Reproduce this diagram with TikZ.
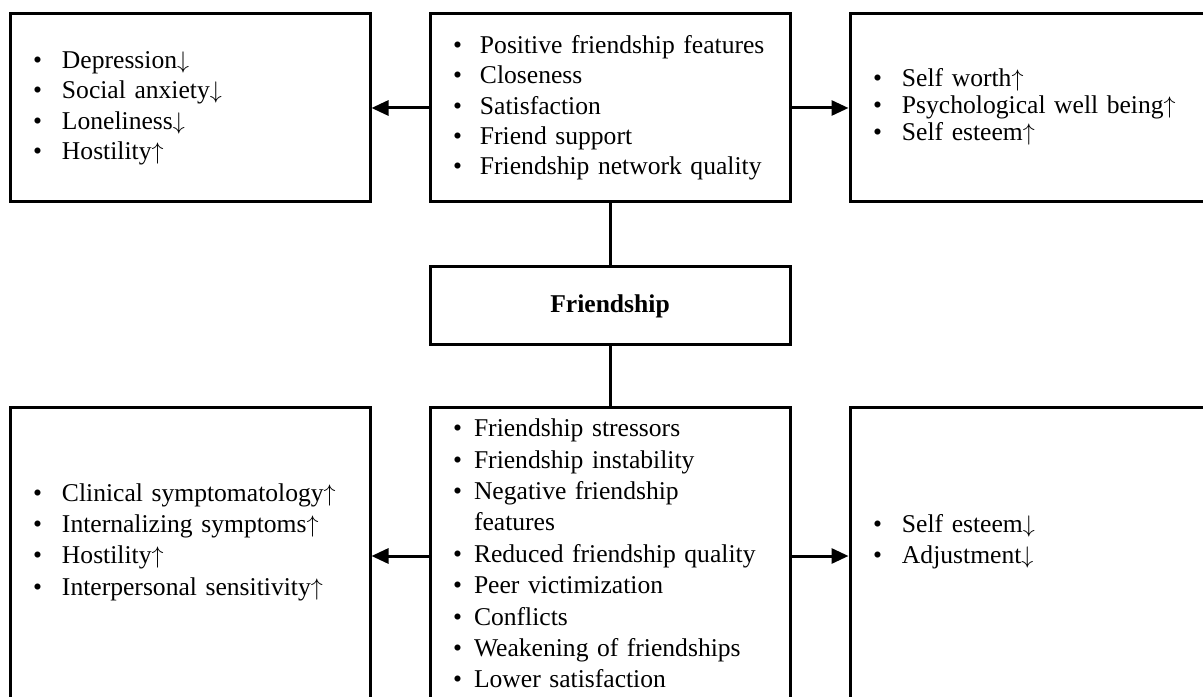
\documentclass[tikz,border=0pt]{standalone}
\usepackage{fontspec}
\setmainfont{Liberation Serif}
\usetikzlibrary{arrows.meta,positioning}

\newcommand{\itm}{\textbullet &}
\newcommand{\up}{$\uparrow$}
\newcommand{\dn}{$\downarrow$}

\begin{document}
\begin{tikzpicture}[
  x=1pt, y=1pt,
  line/.style={draw=black, line width=1.5pt},
  arrow/.style={-{Triangle[length=8.5pt,width=7.5pt]}, draw=black, line width=1.5pt},
  box/.style={line, text width=157pt, inner xsep=11.5pt, inner ysep=0pt, align=left, font=\fontsize{12.8}{15.2}\selectfont},
  topbox/.style={box, minimum height=94pt},
  lowbox/.style={box, minimum height=148pt, font=\fontsize{12.8}{15.7}\selectfont},
  midbox/.style={line, minimum width=180pt, minimum height=39pt, font=\fontsize{12.8}{15}\selectfont\bfseries}
]
\useasboundingbox (0,0) rectangle (601.5,348);
\clip (0,0) rectangle (601.5,348);

\node[topbox] (goodfeat) at (305,294) {\begin{tabular}{@{}p{13.5pt}@{}l@{}}
  \itm Positive friendship features\\
  \itm Closeness\\
  \itm Satisfaction\\
  \itm Friend support\\
  \itm Friendship network quality
\end{tabular}};
\node[topbox, left=28.5pt of goodfeat] (goodlow) {\begin{tabular}{@{}p{14.5pt}@{}l@{}}
  \itm Depression\dn\\
  \itm Social anxiety\dn\\
  \itm Loneliness\dn\\
  \itm Hostility\up
\end{tabular}};
\node[topbox, right=28.5pt of goodfeat, font=\fontsize{12.8}{13.6}\selectfont] (goodhigh) {\begin{tabular}{@{}p{14.5pt}@{}l@{}}
  \itm Self worth\up\\
  \itm Psychological well being\up\\
  \itm Self esteem\up
\end{tabular}};

\node[midbox, below=31pt of goodfeat] (friend) {Friendship};

\node[lowbox] [below=30pt of friend] (badfeat) {\begin{tabular}{@{}p{10.5pt}@{}l@{}}
  \itm Friendship stressors\\
  \itm Friendship instability\\
  \itm Negative friendship\\
  & features\\
  \itm Reduced friendship quality\\
  \itm Peer victimization\\
  \itm Conflicts\\
  \itm Weakening of friendships\\
  \itm Lower satisfaction
\end{tabular}};
\node[lowbox, left=28.5pt of badfeat] (badhigh) {\begin{tabular}{@{}p{14.5pt}@{}l@{}}
  \itm Clinical symptomatology\up\\
  \itm Internalizing symptoms\up\\
  \itm Hostility\up\\
  \itm Interpersonal sensitivity\up\\[14pt]
\end{tabular}};
\node[lowbox, right=28.5pt of badfeat] (badlow) {\begin{tabular}{@{}p{14.5pt}@{}l@{}}
  \itm Self esteem\dn\\
  \itm Adjustment\dn\\[14pt]
\end{tabular}};

\draw[line] (goodfeat) -- (friend);
\draw[line] (friend) -- (badfeat);
\draw[arrow] (goodfeat) -- (goodlow);
\draw[arrow] (goodfeat) -- (goodhigh);
\draw[arrow] (badfeat) -- (badhigh);
\draw[arrow] (badfeat) -- (badlow);

\end{tikzpicture}
\end{document}
